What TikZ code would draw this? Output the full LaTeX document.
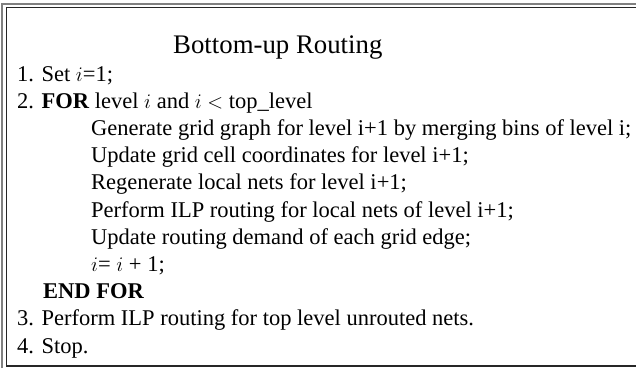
\documentclass[tikz,border=0pt]{standalone}
\usepackage{fontspec}
\setmainfont{Liberation Serif}
\begin{document}
\begin{tikzpicture}[x=1pt,y=-1pt,
  line/.style={anchor=base west,inner sep=0pt,font=\fontsize{22.5}{27}\selectfont},
  heading/.style={anchor=base west,inner sep=0pt,font=\fontsize{26.8}{32}\selectfont},
  outerrule/.style={draw=black!50,line width=2pt},
  innerrule/.style={draw=black!85,line width=1.2pt}]
\useasboundingbox (0,0) rectangle (636,368);
% frame
\draw[outerrule] (1.5,368) -- (1.5,4) -- (636,4);
\draw[innerrule] (636,7.5) -- (6.5,7.5) -- (6.5,366) -- (636,366);
% title
\node[heading] (title) at (173,53) {Bottom-up Routing};
% algorithm steps
\node[line] (s1)  at (17,81)    {1. Set $i$=1;};
\node[line] (s2)  at (17,108.2) {2. \textbf{FOR} level $i$ and $i$ $<$ top\_level};
\node[line] (s2a) at (91,135.4) {Generate grid graph for level i+1 by merging bins of level i;};
\node[line] (s2b) at (91,162.6) {Update grid cell coordinates for level i+1;};
\node[line] (s2c) at (91,189.8) {Regenerate local nets for level i+1;};
\node[line] (s2d) at (91,217)   {Perform ILP routing for local nets of level i+1;};
\node[line] (s2e) at (91,244.2) {Update routing demand of each grid edge;};
\node[line] (s2f) at (91,271.4) {$i$= $i$ + 1;};
\node[line] (s2g) at (43,298.6) {\textbf{END FOR}};
\node[line] (s3)  at (17,325.8) {3. Perform ILP routing for top level unrouted nets.};
\node[line] (s4)  at (17,353)   {4. Stop.};
\end{tikzpicture}
\end{document}
